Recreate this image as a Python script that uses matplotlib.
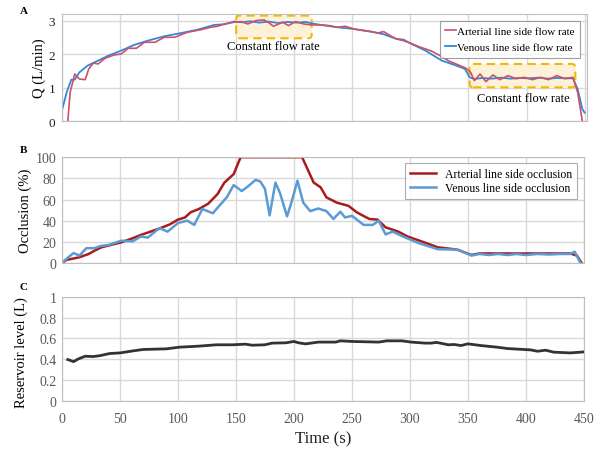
import numpy as np
import matplotlib
matplotlib.use('Agg')
import matplotlib.pyplot as plt
from matplotlib.patches import FancyBboxPatch

plt.rcParams['font.family'] = ['Liberation Serif', 'DejaVu Serif']

# panel A: flow rate (L/min)
t_ven_flow = [0.3, 4, 8, 11, 15, 22, 31, 40, 51, 62, 74, 88, 103, 117, 131, 140, 148, 155, 162, 170,
              178, 186, 194, 202, 210, 216, 223, 237, 251, 266, 277, 288, 294, 301, 313, 327, 338, 347,
              351, 355, 362, 370, 378, 386, 394, 402, 410, 418, 426, 434, 440, 444, 448, 450]
q_ven_flow = [0.36, 0.86, 1.24, 1.24, 1.46, 1.66, 1.81, 1.96, 2.11, 2.28, 2.41, 2.54, 2.64, 2.74, 2.88,
              2.90, 2.98, 2.96, 2.99, 2.95, 2.98, 2.94, 2.97, 2.95, 2.97, 2.92, 2.88, 2.81, 2.76, 2.68,
              2.60, 2.46, 2.44, 2.31, 2.11, 1.81, 1.68, 1.56, 1.31, 1.26, 1.29, 1.27, 1.30, 1.27, 1.29,
              1.28, 1.30, 1.27, 1.29, 1.28, 1.28, 0.96, 0.36, 0.25]
t_art_flow = [5, 7, 11, 15, 20, 23, 27, 31, 37, 45, 51, 57, 64, 71, 80, 88, 97, 108, 120, 128, 134, 140,
              148, 154, 160, 167, 174, 178, 182, 190, 195, 201, 208, 215, 223, 230, 237, 244, 251, 258,
              266, 272, 277, 283, 288, 294, 301, 308, 318, 326, 333, 340, 348, 352, 355, 360, 365, 371,
              377, 384, 391, 398, 405, 412, 419, 426, 433, 440, 444, 448]
q_art_flow = [0, 0.86, 1.41, 1.26, 1.24, 1.56, 1.74, 1.71, 1.88, 1.98, 2.01, 2.18, 2.18, 2.36, 2.36, 2.51,
              2.51, 2.66, 2.74, 2.81, 2.84, 2.91, 2.96, 2.98, 2.91, 3.01, 3.03, 2.95, 2.84, 2.96, 2.86,
              2.98, 2.91, 2.88, 2.88, 2.86, 2.81, 2.84, 2.76, 2.72, 2.68, 2.64, 2.68, 2.55, 2.46, 2.41,
              2.32, 2.22, 2.10, 1.95, 1.80, 1.70, 1.58, 1.45, 1.21, 1.41, 1.18, 1.38, 1.24, 1.36, 1.27,
              1.31, 1.24, 1.31, 1.24, 1.36, 1.27, 1.31, 0.86, 0]
const_boxes = [(150, 215, 2.48, 3.16), (351, 442, 1.01, 1.71)]

# panel B: occlusion (%)
t_art_occ = [0, 4, 9, 15, 23, 28, 34, 42, 51, 60, 68, 76, 85, 93, 100, 106, 111, 118, 126, 134, 140,
             148, 154, 207, 212, 217, 223, 228, 237, 247, 254, 259, 265, 272, 279, 290, 298, 311, 324,
             334, 341, 347, 353, 360, 380, 400, 420, 438, 444, 448]
o_art_occ = [0, 3, 4, 5.4, 8.5, 11.6, 14.8, 17, 19.5, 23, 26.5, 29.5, 33, 36.5, 41, 43, 48, 51, 56, 65,
             76, 84, 100, 100, 88, 76, 71.5, 62, 57, 54, 48, 45, 41.6, 41, 33.7, 29.6, 25, 20, 14.8,
             13.5, 12.5, 10, 7.6, 9, 9, 9, 9, 9, 7, 0]
t_ven_occ = [0, 5, 10, 15, 21, 28, 33, 40, 51, 61, 68, 74, 84, 91, 100, 108, 114, 121, 130, 137, 142,
             148, 155, 161, 167, 171, 175, 179, 184, 188, 194, 198, 203, 208, 214, 221, 228, 234, 240,
             244, 250, 260, 268, 273, 279, 285, 294, 307, 324, 341, 347, 353, 360, 368, 376, 384, 392,
             400, 410, 420, 430, 438, 442, 447]
o_ven_occ = [0, 5, 9.4, 7, 14, 14, 16, 17, 21, 20.5, 25, 24, 33, 29.6, 37.8, 40, 36, 51, 47, 55.8, 62,
             73.6, 68, 73, 78.6, 77, 70, 45, 76, 66, 44, 58, 77.8, 57, 49, 51.5, 49, 41.6, 48.5, 43,
             44.6, 36, 36, 40, 27, 29.6, 25, 19, 13, 12.6, 10, 7, 8.5, 7.5, 8.5, 7.5, 8.5, 7.5, 8.5,
             8, 8.5, 8.5, 10.7, 0]

# panel C: reservoir level (L)
t_res = [5, 10, 14, 20, 27, 33, 41, 50, 61, 70, 90, 101, 118, 133, 147, 158, 164, 175, 181, 193, 200,
         204, 210, 221, 236, 240, 250, 273, 280, 293, 301, 313, 318, 323, 333, 338, 344, 350, 361, 375,
         384, 398, 404, 410, 417, 424, 438, 447, 450]
v_res = [0.397, 0.377, 0.403, 0.429, 0.426, 0.435, 0.455, 0.461, 0.48, 0.494, 0.5, 0.516, 0.526, 0.539,
         0.539, 0.545, 0.535, 0.539, 0.555, 0.558, 0.571, 0.558, 0.548, 0.565, 0.565, 0.577, 0.571,
         0.565, 0.577, 0.577, 0.565, 0.555, 0.555, 0.562, 0.539, 0.542, 0.532, 0.548, 0.532, 0.516,
         0.503, 0.494, 0.490, 0.477, 0.487, 0.468, 0.461, 0.468, 0.471]

grid_c = '#d9d9d9'
tick_c = '#595959'

fig = plt.figure(figsize=(6.02, 4.52), dpi=100)
axA = fig.add_axes([0.103, 0.730, 0.872, 0.237])
axB = fig.add_axes([0.103, 0.416, 0.867, 0.234])
axC = fig.add_axes([0.103, 0.111, 0.867, 0.230])

def style(ax):
    ax.set_xlim(0, 450)
    ax.set_xticks(np.arange(0, 451, 50))
    ax.grid(True, color=grid_c, lw=1)
    ax.set_axisbelow(True)
    for s in ax.spines.values():
        s.set_color('#bfbfbf')
    ax.tick_params(length=0, labelsize=10, colors=tick_c, pad=4)

def place_ylabel(ax, xpx):
    # centre of the label at a given pixel column
    w = ax.get_position().width * 602
    ax.yaxis.set_label_coords((xpx - 62) / w, 0.5)
    ax.yaxis.label.set_va('center')

# A
style(axA)
axA.set_xlim(0, 452)
axA.set_ylim(0, 3.21)
axA.set_yticks([0, 1, 2, 3])
axA.tick_params(labelbottom=False, labelsize=9.5, colors='#222222', pad=5)
for x0, x1, y0, y1 in const_boxes:
    box = FancyBboxPatch((x0, y0), x1 - x0, y1 - y0,
                         boxstyle='round,pad=0,rounding_size=3', mutation_aspect=0.035,
                         fc='#fdf1d8', ec='#f5b800', lw=1.5, ls=(0, (4, 2.5)), zorder=1)
    axA.add_patch(box)
axA.plot(t_art_flow, q_art_flow, color='#d05068', lw=1.2, zorder=3, label='Arterial line side flow rate')
axA.plot(t_ven_flow, q_ven_flow, color='#2f88d8', lw=1.3, zorder=2, label='Venous line side flow rate')
axA.text(182, 2.26, 'Constant flow rate', ha='center', va='center', fontsize=9)
axA.text(397, 0.68, 'Constant flow rate', ha='center', va='center', fontsize=9)
axA.set_ylabel('Q (L/min)', fontsize=10.5)
place_ylabel(axA, 39)
legA = axA.legend(loc='upper right', fontsize=8, handlelength=1.0, handletextpad=0.1,
                  fancybox=False, edgecolor='#888888', borderpad=0.5, labelspacing=0.6,
                  bbox_to_anchor=(0.998, 0.99))
legA.get_frame().set_linewidth(0.8)

# B
style(axB)
axB.set_ylim(0, 100)
axB.set_yticks(np.arange(0, 101, 20))
axB.tick_params(labelbottom=False)
axB.plot(t_art_occ, o_art_occ, color='#a81c1c', lw=1.8, label='Arterial line side occlusion')
axB.plot(t_ven_occ, o_ven_occ, color='#5b9bd5', lw=1.8, label='Venous line side occlusion')
axB.set_ylabel('Occlusion (%)', fontsize=10.5)
place_ylabel(axB, 25)
legB = axB.legend(loc='upper right', fontsize=8.5, handlelength=2.2, handletextpad=0.8,
                  fancybox=False, edgecolor='#999999', borderpad=0.4, labelspacing=0.2,
                  bbox_to_anchor=(0.998, 1.0))
legB.get_frame().set_linewidth(0.8)

# C
style(axC)
axC.set_ylim(0, 1)
axC.set_yticks([0, 0.2, 0.4, 0.6, 0.8, 1.0])
axC.set_yticklabels(['0', '0.2', '0.4', '0.6', '0.8', '1'])
axC.plot(t_res, v_res, color='#333333', lw=2)
axC.set_ylabel('Reservoir level (L)', fontsize=10.5)
place_ylabel(axC, 21)
axC.yaxis.set_label_coords(axC.yaxis.label.get_position()[0], 0.47)
axC.set_xlabel('Time (s)', fontsize=12, color='#222222', labelpad=4)
axC.tick_params(axis='x', pad=8)

fig.text(0.033, 0.975, 'A', fontsize=8, fontweight='bold', va='center')
fig.text(0.033, 0.668, 'B', fontsize=8, fontweight='bold', va='center')
fig.text(0.033, 0.365, 'C', fontsize=8, fontweight='bold', va='center')

fig.savefig('out.png', dpi=100)
